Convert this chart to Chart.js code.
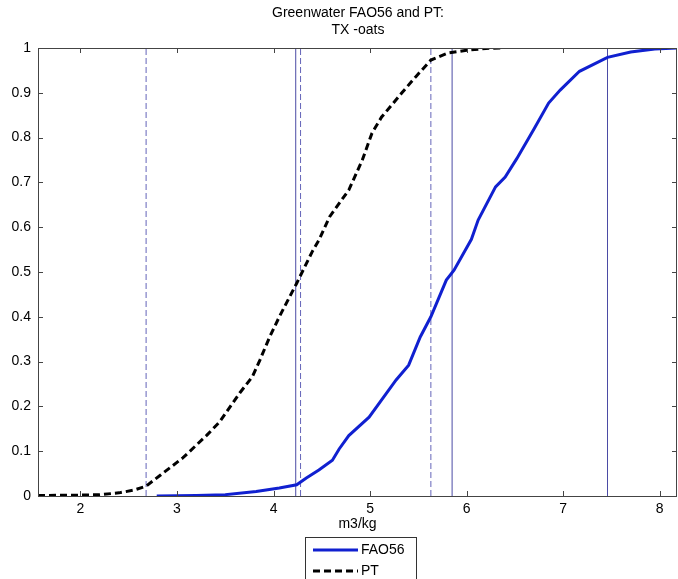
<!DOCTYPE html>
<html>
<head>
<meta charset="utf-8">
<script src="https://cdn.jsdelivr.net/npm/chart.js@4/dist/chart.umd.min.js"></script>
<style>
  html, body { margin: 0; padding: 0; background: #fff; }
  #wrap { width: 678px; height: 579px; }
</style>
</head>
<body>
<div id="wrap"><canvas id="cdf" width="678" height="579"></canvas></div>
<script>
let faoX = [2.79, 3.2, 3.5, 3.82, 4.06, 4.24, 4.34, 4.47, 4.61, 4.68, 4.78, 4.99, 5.27, 5.40, 5.52, 5.63, 5.79, 5.87, 6.05, 6.12, 6.30, 6.40, 6.52, 6.70, 6.85, 6.97, 7.17, 7.46, 7.70, 7.95, 8.18]
let faoY = [0, 0.001, 0.003, 0.01, 0.018, 0.025, 0.04, 0.058, 0.08, 0.105, 0.135, 0.176, 0.259, 0.292, 0.355, 0.40, 0.482, 0.504, 0.573, 0.616, 0.69, 0.712, 0.753, 0.82, 0.877, 0.906, 0.948, 0.979, 0.991, 0.998, 1.0]

let ptX = [1.56, 2.0, 2.2, 2.4, 2.55, 2.68, 2.83, 3.06, 3.31, 3.44, 3.65, 3.78, 3.86, 3.96, 4.06, 4.24, 4.40, 4.47, 4.58, 4.78, 4.92, 5.02, 5.12, 5.33, 5.47, 5.63, 5.81, 6.0, 6.2, 6.36]
let ptY = [0.001, 0.002, 0.003, 0.007, 0.013, 0.022, 0.047, 0.085, 0.136, 0.165, 0.23, 0.266, 0.304, 0.355, 0.40, 0.475, 0.545, 0.571, 0.623, 0.683, 0.75, 0.81, 0.846, 0.90, 0.935, 0.973, 0.989, 0.995, 0.999, 1.0]

// vertical marker lines
let solidLines = [4.23, 5.85, 7.46]
let dashedLines = [2.68, 4.28, 5.63]

let xTicks = [2, 3, 4, 5, 6, 7, 8]
let titleLines = ['Greenwater FAO56 and PT:', 'TX -oats']

const FONT = 'Liberation Sans, Arial, Helvetica, sans-serif'
const BLUE = '#1020d0'

function toPoints(xs, ys) {
  return xs.map((x, i) => ({ x: x, y: ys[i] }))
}

let datasets = [
  { label: 'FAO56', data: toPoints(faoX, faoY), borderColor: BLUE, borderWidth: 3 },
  { label: 'PT', data: toPoints(ptX, ptY), borderColor: '#000', borderWidth: 3, borderDash: [7, 4] }
]
solidLines.forEach((v) => {
  datasets.push({ label: '', data: [{ x: v, y: 0 }, { x: v, y: 1 }], borderColor: 'rgb(75,75,165)', borderWidth: 1 })
})
dashedLines.forEach((v) => {
  datasets.push({ label: '', data: [{ x: v, y: 0 }, { x: v, y: 1 }], borderColor: 'rgb(100,100,185)', borderWidth: 1, borderDash: [6, 3] })
})

// box, inward ticks, title and legend like the matlab figure
const matlabFrame = {
  id: 'matlabFrame',
  afterDatasetsDraw(chart) {
    const ctx = chart.ctx
    const a = chart.chartArea
    const xs = chart.scales.x
    const ys = chart.scales.y
    ctx.save()
    ctx.strokeStyle = '#444'
    ctx.lineWidth = 1
    ctx.setLineDash([])
    ctx.strokeRect(Math.round(a.left) + 0.5, Math.round(a.top) + 0.5, Math.round(a.right - a.left) - 1, Math.round(a.bottom - a.top))
    ctx.beginPath()
    xs.ticks.forEach((t) => {
      let px = Math.round(xs.getPixelForValue(t.value)) + 0.5
      ctx.moveTo(px, a.bottom); ctx.lineTo(px, a.bottom - 5)
      ctx.moveTo(px, a.top); ctx.lineTo(px, a.top + 5)
    })
    ys.ticks.forEach((t) => {
      let py = Math.round(ys.getPixelForValue(t.value)) + 0.5
      ctx.moveTo(a.left, py); ctx.lineTo(a.left + 5, py)
      ctx.moveTo(a.right, py); ctx.lineTo(a.right - 5, py)
    })
    ctx.stroke()

    // title
    ctx.fillStyle = '#000'
    ctx.font = '14px ' + FONT
    ctx.textAlign = 'center'
    ctx.textBaseline = 'middle'
    titleLines.forEach((line, i) => {
      ctx.fillText(line, 358, 13 + i * 17)
    })

    // legend
    const lx = 305, ly = 537, lw = 111, lh = 50
    ctx.fillStyle = '#fff'
    ctx.fillRect(lx, ly, lw, lh)
    ctx.strokeStyle = '#333'
    ctx.strokeRect(lx + 0.5, ly + 0.5, lw, lh)
    const items = chart.data.datasets.slice(0, 2)
    items.forEach((ds, i) => {
      let y = 550 + i * 21
      ctx.strokeStyle = ds.borderColor
      ctx.lineWidth = ds.borderWidth
      ctx.setLineDash(ds.borderDash || [])
      ctx.beginPath()
      ctx.moveTo(313, y)
      ctx.lineTo(358, y)
      ctx.stroke()
      ctx.fillStyle = '#000'
      ctx.textAlign = 'left'
      ctx.fillText(ds.label, 361, y)
    })
    ctx.restore()
  }
}

new Chart(document.getElementById('cdf'), {
  type: 'scatter',
  data: { datasets: datasets },
  options: {
    responsive: false,
    animation: false,
    showLine: true,
    layout: { padding: { top: 48, right: 1, left: 0, bottom: 0 } },
    elements: {
      point: { radius: 0, hoverRadius: 0 },
      line: { tension: 0, fill: false }
    },
    plugins: {
      legend: { display: false },
      tooltip: { enabled: false },
      title: { display: false }
    },
    scales: {
      x: {
        type: 'linear',
        min: 1.56,
        max: 8.18,
        afterBuildTicks: (scale) => { scale.ticks = xTicks.map((v) => ({ value: v })) },
        afterFit: (scale) => { scale.height = 83 },
        grid: { display: false, drawTicks: false },
        border: { display: false },
        ticks: { color: '#000', padding: 5, font: { family: FONT, size: 14 } },
        title: { display: true, text: 'm3/kg', color: '#000', font: { family: FONT, size: 14 }, padding: { top: 0, bottom: 46 } }
      },
      y: {
        type: 'linear',
        min: 0,
        max: 1,
        ticks: {
          stepSize: 0.1,
          color: '#000',
          padding: 7,
          font: { family: FONT, size: 14 },
          callback: (v) => String(Math.round(v * 10) / 10)
        },
        afterFit: (scale) => { scale.width = 38 },
        grid: { display: false, drawTicks: false },
        border: { display: false }
      }
    }
  },
  plugins: [matlabFrame]
})
</script>
</body>
</html>
